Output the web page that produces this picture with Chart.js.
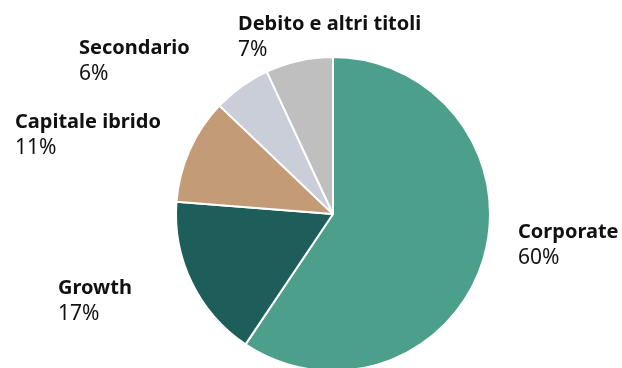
<!DOCTYPE html>
<html lang="it">
<head>
    <meta charset="UTF-8">
    <title>Ripartizione per strategia</title>
    <script src="https://cdn.jsdelivr.net/npm/chart.js"></script>
    <style>
        html, body { margin: 0; padding: 0; background: #fff; overflow: hidden; }
        #wrap { width: 622px; height: 380px; }
    </style>
</head>
<body>
    <div id="wrap">
        <canvas id="strategyChart" width="622" height="380"></canvas>
    </div>
    <script>
        // strategy split, clockwise from 12 o'clock
        const strategies = ['Corporate', 'Growth', 'Capitale ibrido', 'Secondario', 'Debito e altri titoli'];
        const shares = [60, 17, 11, 6, 7];
        const sliceColors = ['#4c9f8b', '#1d5e5a', '#c39b76', '#c9ced8', '#bfbfbf'];

        // where each label block sits (left edge, baseline of first line)
        const labelSpots = [
            { x: 518, y: 238 },
            { x: 58, y: 294 },
            { x: 15, y: 128 },
            { x: 79, y: 54 },
            { x: 238, y: 30 }
        ];

        const outsideLabels = {
            id: 'outsideLabels',
            afterDraw(chart) {
                const ctx = chart.ctx;
                const values = chart.data.datasets[0].data;
                ctx.save();
                ctx.fillStyle = '#111';
                ctx.textAlign = 'left';
                ctx.textBaseline = 'alphabetic';
                chart.data.labels.forEach((name, i) => {
                    const spot = labelSpots[i];
                    ctx.font = 'bold 20px "Noto Sans"';
                    ctx.fillText(name, spot.x, spot.y);
                    ctx.font = '21px "Noto Sans"';
                    ctx.fillText(values[i] + '%', spot.x, spot.y + 26);
                });
                ctx.restore();
            }
        };

        const ctx = document.getElementById('strategyChart').getContext('2d');
        new Chart(ctx, {
            type: 'pie',
            data: {
                labels: strategies,
                datasets: [{
                    data: shares,
                    backgroundColor: sliceColors,
                    borderColor: '#ffffff',
                    borderWidth: 2
                }]
            },
            options: {
                responsive: false,
                animation: false,
                layout: {
                    padding: { top: 56, bottom: 8, left: 175, right: 131 }
                },
                plugins: {
                    legend: { display: false },
                    tooltip: { enabled: false }
                }
            },
            plugins: [outsideLabels]
        });
    </script>
</body>
</html>
